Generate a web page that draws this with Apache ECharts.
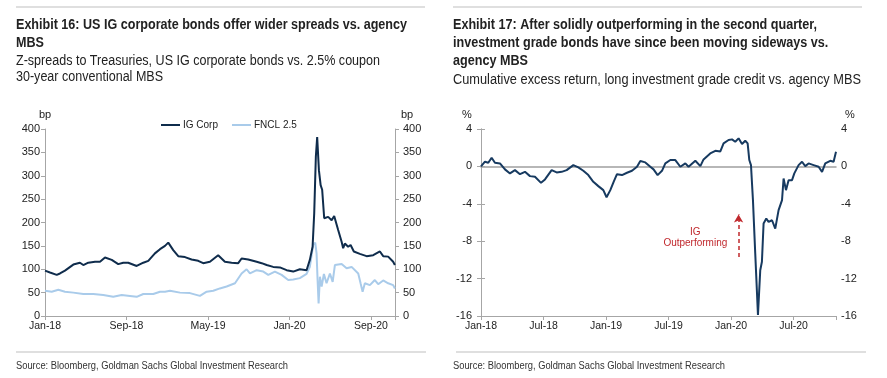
<!DOCTYPE html>
<html>
<head>
<meta charset="utf-8">
<script src="https://cdn.jsdelivr.net/npm/echarts@6/dist/echarts.min.js"></script>
<style>html,body{margin:0;padding:0;background:#fff;}#c{width:887px;height:378px;}</style>
</head>
<body>
<div id="c"></div>
<script>
// ---- Exhibit 16 data (x = months since Jan-18) ----
const igMonths = [0,0.49,1.15,1.47,1.96,2.78,3.43,3.76,4.25,4.91,5.4,5.89,6.55,7.19,7.68,8.17,9.0,9.65,10.14,10.79,11.29,11.78,12.1,12.59,13.08,13.74,14.39,15.04,15.53,16.19,17.0,17.66,18.32,18.97,19.3,19.95,20.78,21.27,21.76,22.4,23.06,23.72,24.37,25.02,25.68,26.0,26.27,26.43,26.59,26.72,26.89,27.06,27.21,27.41,27.8,28.14,28.39,28.78,29.12,29.27,29.44,29.76,30.0,30.32,30.91,31.57,32.22,32.88,33.2,33.69,34.18,34.35];
const igCorp   = [97,93,88,91,97,110,114,109,114,116,116,125,120,111,114,114,107,114,118,134,143,150,157,141,128,126,121,118,113,116,130,116,114,113,123,121,116,113,109,105,104,98,95,100,98,120,148,220,341,383,312,280,270,209,212,205,214,184,159,145,155,148,152,138,133,128,130,138,128,127,116,109];
const fnclMonths = [0,0.66,1.31,1.96,2.78,3.76,4.74,5.72,6.7,7.53,8.34,9.0,9.65,10.63,11.29,11.78,12.27,13.25,14.23,15.21,15.87,16.52,17.17,17.83,18.65,19.3,19.79,20.12,20.78,21.43,21.92,22.57,23.23,23.88,24.37,25.02,25.68,26.0,26.33,26.53,26.66,26.76,26.86,26.99,27.16,27.38,27.64,27.97,28.24,28.46,29.12,29.61,30.1,30.75,30.98,31.18,31.4,31.89,32.38,32.71,33.2,33.69,34.18,34.35];
const fncl     = [54,52,56,52,50,47,47,45,41,45,43,41,47,47,52,52,54,50,49,43,52,54,59,63,70,91,100,91,98,95,88,95,88,77,78,81,90,105,152,157,134,77,27,84,63,90,70,91,73,109,111,102,105,91,70,52,70,66,77,68,76,70,66,59];
const leftTickLabels = ['Jan-18','Sep-18','May-19','Jan-20','Sep-20'];

// ---- Exhibit 17 data (x = months since Jan-18) ----
const xrMonths = [0,0.06,0.38,0.7,1.02,1.34,1.82,2.3,2.78,3.26,3.74,4.22,4.7,5.18,5.76,6.14,6.78,7.26,7.74,8.22,8.86,9.34,9.82,10.3,10.78,11.26,11.74,12.05,12.41,12.73,13.05,13.53,14.01,14.49,14.97,15.29,15.77,16.25,16.56,16.95,17.37,17.69,18.17,18.65,18.81,19.13,19.61,19.92,20.57,21.05,21.36,22.0,22.49,22.97,23.28,23.76,24.09,24.4,24.72,25.05,25.36,25.59,25.75,25.91,26.1,26.32,26.58,26.8,26.96,27.12,27.38,27.6,27.93,28.24,28.56,28.89,29.04,29.27,29.52,29.85,30.07,30.48,30.81,31.12,31.44,31.92,32.4,32.73,33.04,33.52,33.84,34.07];
const excessReturn = [0,0.14,0.5,0.39,0.93,0.39,0.32,-0.32,-0.75,-0.4,-0.83,-0.58,-1.04,-1.11,-1.76,-1.39,-0.4,-0.64,-0.58,-0.4,0.14,-0.11,-0.47,-0.93,-1.65,-2.11,-2.54,-3.3,-2.54,-1.65,-0.83,-0.93,-0.68,-0.47,-0.04,0.57,0.43,-0.04,-0.32,-0.93,-0.47,0.32,0.68,0.68,0.8,-0.04,0.32,-0.04,0.6,0.03,0.75,1.39,1.67,1.6,2.46,2.82,2.89,2.64,3.0,2.39,2.74,2.46,0.68,0.14,-3.61,-9.33,-15.9,-11.1,-10.2,-6.1,-5.57,-5.94,-5.76,-6.65,-4.68,-3.61,-1.29,-2.54,-1.47,-1.47,-0.75,0.14,0.5,0.03,0.32,0.14,-0.04,-0.58,0.32,0.6,0.5,1.56];
const rightTickLabels = ['Jan-18','Jul-18','Jan-19','Jul-19','Jan-20','Jul-20'];
const arrowX = 24.72, arrowFrom = -9.69, arrowTo = -5.14;
const noteX = 20.57, noteY = -7.68;

const zip = (xs, ys) => xs.map((x, i) => [x, ys[i]]);

const SANS = "'Liberation Sans',Arial,sans-serif";
const AX = '#A6A6A6';
const INK = '#222';

// narrow text emulation: scale a regular sans horizontally to the reference width
const mctx = document.createElement('canvas').getContext('2d');
function measure(str, size, weight) {
  mctx.font = weight + ' ' + size + 'px ' + SANS;
  return mctx.measureText(str).width;
}
function block(lines, x, y0, lh, size, weight, refLine, refWidth, color) {
  const sx = refWidth / measure(refLine, size, weight);
  return lines.map((s, i) => ({
    type: 'text', x: x, y: y0 + i * lh, scaleX: sx, silent: true,
    style: {text: s, fontFamily: SANS, fontSize: size, fontWeight: weight, fill: color || INK,
            textVerticalAlign: 'middle', verticalAlign: 'middle', textAlign: 'left', align: 'left'}
  }));
}
function unit(str, x, y) {
  return {type: 'text', x: x, y: y, silent: true,
    style: {text: str, fontFamily: SANS, fontSize: 11, fill: INK,
            textAlign: 'center', align: 'center', textVerticalAlign: 'middle', verticalAlign: 'middle'}};
}

const leftTitle = ['Exhibit 16: US IG corporate bonds offer wider spreads vs. agency', 'MBS'];
const leftSub = ['Z-spreads to Treasuries, US IG corporate bonds vs. 2.5% coupon', '30-year conventional MBS'];
const rightTitle = ['Exhibit 17: After solidly outperforming in the second quarter,', 'investment grade bonds have since been moving sideways vs.', 'agency MBS'];
const rightSub = ['Cumulative excess return, long investment grade credit vs. agency MBS'];
const source = 'Source: Bloomberg, Goldman Sachs Global Investment Research';

const graphics = [].concat(
  [
    {type: 'line', silent: true, shape: {x1: 16, y1: 7, x2: 425, y2: 7}, style: {stroke: '#BFBFBF', lineWidth: 1}},
    {type: 'line', silent: true, shape: {x1: 453, y1: 7, x2: 862, y2: 7}, style: {stroke: '#BFBFBF', lineWidth: 1}},
    {type: 'line', silent: true, shape: {x1: 16, y1: 352, x2: 426, y2: 352}, style: {stroke: '#BFBFBF', lineWidth: 1}},
    {type: 'line', silent: true, shape: {x1: 456, y1: 352, x2: 866, y2: 352}, style: {stroke: '#BFBFBF', lineWidth: 1}}
  ],
  block(leftTitle, 16, 25.5, 17.3, 14, 'bold', leftTitle[0], 391),
  block(leftSub, 16, 61, 16.5, 14, 'normal', leftSub[0], 364),
  block(rightTitle, 453, 25.5, 17.8, 14, 'bold', rightTitle[0], 364),
  block(rightSub, 453, 80, 17, 14, 'normal', rightSub[0], 408),
  block([source], 16, 366, 12, 10, 'normal', source, 272, '#333'),
  block([source], 453, 366, 12, 10, 'normal', source, 272, '#333'),
  [unit('bp', 45, 115), unit('bp', 407, 115), unit('%', 467, 115), unit('%', 850, 115)]
);

const chart = echarts.init(document.getElementById('c'), null, {renderer: 'canvas'});

function yAx(gridIndex, pos, min, max, interval, labelMargin) {
  return {
    type: 'value', gridIndex, position: pos, min, max, interval,
    axisLine: {show: true, lineStyle: {color: AX, width: 1}},
    axisTick: {show: true, length: 4, lineStyle: {color: AX}},
    axisLabel: {fontFamily: SANS, fontSize: 11, color: INK, margin: labelMargin},
    splitLine: {show: false}
  };
}

const option = {
  animation: false,
  backgroundColor: '#fff',
  graphic: graphics,
  legend: {
    data: ['IG Corp', 'FNCL 2.5'], left: 156, top: 115, itemWidth: 19, itemHeight: 2, itemGap: 14,
    icon: 'rect', textStyle: {fontFamily: SANS, fontSize: 10, color: INK, padding: [0, 0, 0, -2]}
  },
  grid: [
    {left: 45, right: 492, top: 129, height: 187},
    {left: 481, right: 51, top: 129, height: 187}
  ],
  xAxis: [
    {type: 'value', gridIndex: 0, min: 0, max: 34.36, interval: 8,
     axisLine: {onZero: false, lineStyle: {color: AX}}, axisTick: {show: true, length: 4, lineStyle: {color: AX}},
     axisLabel: {fontFamily: SANS, fontSize: 10.5, color: INK, margin: 5,
       formatter: v => (v % 8 === 0 && leftTickLabels[v / 8]) ? leftTickLabels[v / 8] : ''},
     splitLine: {show: false}},
    {type: 'value', gridIndex: 1, min: 0, max: 34.07, interval: 6,
     axisLine: {onZero: false, lineStyle: {color: AX}}, axisTick: {show: true, length: 4, lineStyle: {color: AX}},
     axisLabel: {fontFamily: SANS, fontSize: 10.5, color: INK, margin: 5,
       formatter: v => (v % 6 === 0 && rightTickLabels[v / 6]) ? rightTickLabels[v / 6] : ''},
     splitLine: {show: false}},
    {type: 'value', gridIndex: 1, min: 0, max: 34.07, interval: 6,
     axisLine: {onZero: true, lineStyle: {color: '#A0A0A0', width: 1.5}}, axisTick: {show: false},
     axisLabel: {show: false}, splitLine: {show: false}}
  ],
  yAxis: [
    yAx(0, 'left', 0, 400, 50, 5),
    yAx(0, 'right', 0, 400, 50, 8),
    yAx(1, 'left', -16, 4, 4, 9),
    yAx(1, 'right', -16, 4, 4, 5)
  ],
  series: [
    {name: 'FNCL 2.5', type: 'line', xAxisIndex: 0, yAxisIndex: 0, data: zip(fnclMonths, fncl),
     showSymbol: false, symbol: 'none', lineStyle: {color: '#A9CBEA', width: 2}, itemStyle: {color: '#A9CBEA'}, z: 2},
    {name: 'IG Corp', type: 'line', xAxisIndex: 0, yAxisIndex: 0, data: zip(igMonths, igCorp),
     showSymbol: false, symbol: 'none', lineStyle: {color: '#0F2C4C', width: 2}, itemStyle: {color: '#0F2C4C'}, z: 3},
    {name: 'Excess return', type: 'line', xAxisIndex: 1, yAxisIndex: 2, data: zip(xrMonths, excessReturn),
     showSymbol: false, symbol: 'none', lineStyle: {color: '#173A60', width: 2}, itemStyle: {color: '#173A60'}, z: 3,
     markLine: {
       silent: true, animation: false, symbol: ['none', 'arrow'], symbolSize: [7, 8],
       label: {show: false},
       lineStyle: {color: '#C0282D', type: [4, 3], width: 1.5},
       data: [[{coord: [arrowX, arrowFrom]}, {coord: [arrowX, arrowTo]}]]
     },
     markPoint: {
       silent: true, animation: false, symbol: 'circle', symbolSize: 0,
       data: [{coord: [noteX, noteY], value: '',
         label: {show: true, position: 'inside', formatter: 'IG\nOutperforming', color: '#C0282D',
                 fontFamily: SANS, fontSize: 10, lineHeight: 11, align: 'center'}}]
     }}
  ]
};
chart.setOption(option);
</script>
</body>
</html>
